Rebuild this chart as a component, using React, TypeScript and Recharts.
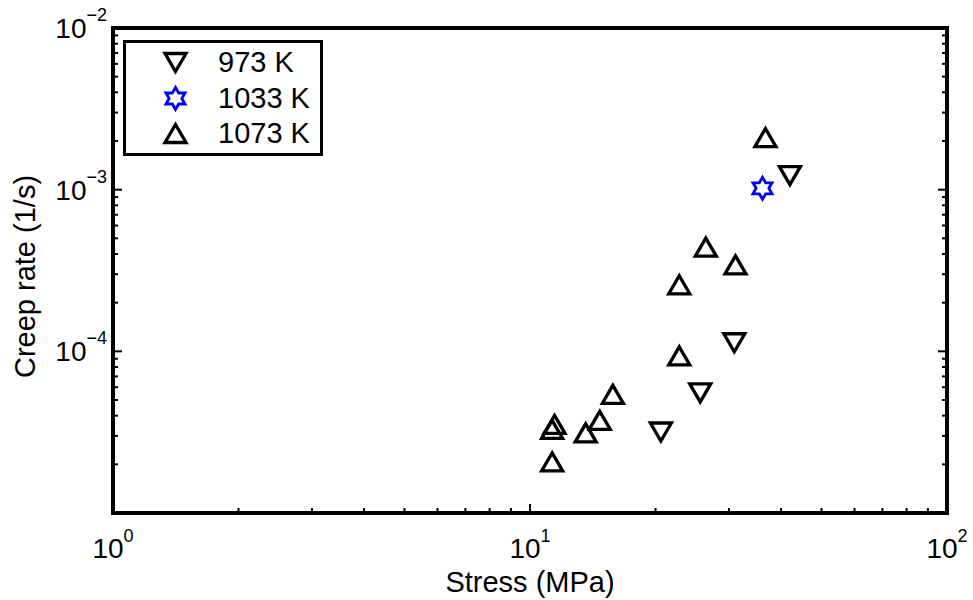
import { ScatterChart, Scatter, XAxis, YAxis, Legend } from "recharts";

const FONT = '"Liberation Sans", Arial, Helvetica, sans-serif';

// stress (MPa) / creep rate (1/s)
const seriesNames = ["973 K", "1033 K", "1073 K"];

const stress973 = [42.0, 30.9, 25.6, 20.6];
const rate973 = [1.22e-3, 1.13e-4, 5.53e-5, 3.17e-5];

const stress1033 = [36.1];
const rate1033 = [1.02e-3];

const stress1073 = [36.7, 26.4, 31.1, 22.8, 22.8, 15.8, 13.6, 14.7, 11.45, 11.3, 11.3];
const rate1073 = [2.1e-3, 4.41e-4, 3.43e-4, 2.58e-4, 9.38e-5, 5.42e-5, 3.13e-5, 3.74e-5, 3.53e-5, 3.29e-5, 2.07e-5];

const xTicks = [1, 2, 3, 4, 5, 6, 7, 8, 9, 10, 20, 30, 40, 50, 60, 70, 80, 90, 100];
const yTicks = [
  1e-5, 2e-5, 3e-5, 4e-5, 5e-5, 6e-5, 7e-5, 8e-5, 9e-5,
  1e-4, 2e-4, 3e-4, 4e-4, 5e-4, 6e-4, 7e-4, 8e-4, 9e-4,
  1e-3, 2e-3, 3e-3, 4e-3, 5e-3, 6e-3, 7e-3, 8e-3, 9e-3,
  1e-2,
];
const yLabelled = [-2, -3, -4];

const toPoints = (xs: number[], ys: number[]) => xs.map((x, i) => ({ x, y: ys[i] }));

const TICK_SIZE = 6;
const TICK_MARGIN = 2;
const MAJOR = 9;
const MINOR = 5;

const frame = { stroke: "#000", strokeWidth: 4, strokeLinecap: "square" as const };

const isMajor = (v: number) => Math.abs(Math.log10(v) - Math.round(Math.log10(v))) < 1e-6;
const expOf = (v: number) => {
  const e = Math.round(Math.log10(v));
  return e < 0 ? `\u2212${-e}` : `${e}`;
};

const BottomTick = (props: any) => {
  const { x, y, payload } = props;
  const edge = y - TICK_SIZE - TICK_MARGIN;
  const major = isMajor(payload.value);
  return (
    <g>
      <line x1={x} x2={x} y1={edge} y2={edge - (major ? MAJOR : MINOR)} stroke="#000" strokeWidth={2} />
      {major && (
        <text x={x} y={edge + 45} textAnchor="middle" fontFamily={FONT} fontSize={28} fill="#000">
          10
          <tspan dy={-16} fontSize={18}>{expOf(payload.value)}</tspan>
        </text>
      )}
    </g>
  );
};

const TopTick = (props: any) => {
  const { x, y, payload } = props;
  const edge = y + TICK_SIZE + TICK_MARGIN;
  const major = isMajor(payload.value);
  return <line x1={x} x2={x} y1={edge} y2={edge + (major ? MAJOR : MINOR)} stroke="#000" strokeWidth={2} />;
};

const LeftTick = (props: any) => {
  const { x, y, payload } = props;
  const edge = x + TICK_SIZE + TICK_MARGIN;
  const major = isMajor(payload.value);
  const e = Math.round(Math.log10(payload.value));
  return (
    <g>
      <line x1={edge} x2={edge + (major ? MAJOR : MINOR)} y1={y} y2={y} stroke="#000" strokeWidth={2} />
      {major && yLabelled.includes(e) && (
        <text x={edge - 6} y={y + 10} textAnchor="end" fontFamily={FONT} fontSize={28} fill="#000">
          10
          <tspan dy={-17} fontSize={18}>{expOf(payload.value)}</tspan>
        </text>
      )}
    </g>
  );
};

const RightTick = (props: any) => {
  const { x, y, payload } = props;
  const edge = x - TICK_SIZE - TICK_MARGIN;
  const major = isMajor(payload.value);
  return <line x1={edge} x2={edge - (major ? MAJOR : MINOR)} y1={y} y2={y} stroke="#000" strokeWidth={2} />;
};

const TriUp = ({ cx, cy }: any) => (
  <path
    d={`M${cx},${cy - 9} L${cx + 10.5},${cy + 9} L${cx - 10.5},${cy + 9} Z`}
    fill="none"
    stroke="#000"
    strokeWidth={3.3}
  />
);

const TriDown = ({ cx, cy }: any) => (
  <path
    d={`M${cx},${cy + 9} L${cx + 10.5},${cy - 9} L${cx - 10.5},${cy - 9} Z`}
    fill="none"
    stroke="#000"
    strokeWidth={3.3}
  />
);

const Hexagram = ({ cx, cy }: any) => {
  const R = 11;
  const r = R / Math.sqrt(3);
  const pts = [];
  for (let i = 0; i < 12; i++) {
    const a = -Math.PI / 2 + (i * Math.PI) / 6;
    const rad = i % 2 === 0 ? R : r;
    pts.push(`${cx + rad * Math.cos(a)},${cy + rad * Math.sin(a)}`);
  }
  return <polygon points={pts.join(" ")} fill="none" stroke="#0000ff" strokeWidth={2.8} />;
};

const markers: Record<string, any> = {
  "973 K": TriDown,
  "1033 K": Hexagram,
  "1073 K": TriUp,
};

const LegendBox = ({ payload }: any) => {
  const items = [...(payload || [])].sort(
    (a: any, b: any) => seriesNames.indexOf(a.value) - seriesNames.indexOf(b.value)
  );
  return (
    <div
      style={{
        width: 200,
        height: 116,
        boxSizing: "border-box",
        border: "3.5px solid #000",
        background: "#fff",
        paddingTop: 2,
        fontFamily: FONT,
        fontSize: 29,
        color: "#000",
      }}
    >
      {items.map((entry: any) => {
        const Mark = markers[entry.value];
        return (
          <div key={entry.value} style={{ display: "flex", alignItems: "center", height: 35.5 }}>
            <svg width={92} height={35} style={{ flex: "none" }}>
              <Mark cx={49.5} cy={17.5} />
            </svg>
            <span style={{ lineHeight: "35px" }}>{entry.value}</span>
          </div>
        );
      })}
    </div>
  );
};

export default function App() {
  return (
    <div style={{ position: "absolute", left: 0, top: 0, background: "#fff" }}>
      <ScatterChart width={973} height={600} margin={{ top: 27, right: 25, bottom: 0, left: 0 }}>
        <XAxis
          xAxisId="b"
          dataKey="x"
          type="number"
          scale="log"
          domain={[1, 100]}
          allowDataOverflow
          ticks={xTicks}
          interval={0}
          tickLine={false}
          tickSize={TICK_SIZE}
          tickMargin={TICK_MARGIN}
          axisLine={frame}
          height={87}
          tick={BottomTick}
          label={{ value: "Stress (MPa)", position: "insideBottom", offset: 8, fontSize: 29, fill: "#000", fontFamily: FONT }}
        />
        <XAxis
          xAxisId="t"
          orientation="top"
          type="number"
          scale="log"
          domain={[1, 100]}
          allowDataOverflow
          ticks={xTicks}
          interval={0}
          tickLine={false}
          tickSize={TICK_SIZE}
          tickMargin={TICK_MARGIN}
          axisLine={frame}
          height={1}
          tick={TopTick}
        />
        <YAxis
          yAxisId="l"
          dataKey="y"
          type="number"
          scale="log"
          domain={[1e-5, 1e-2]}
          allowDataOverflow
          ticks={yTicks}
          interval={0}
          tickLine={false}
          tickSize={TICK_SIZE}
          tickMargin={TICK_MARGIN}
          axisLine={frame}
          width={113}
          tick={LeftTick}
          label={{
            value: "Creep rate (1/s)",
            angle: -90,
            position: "insideLeft",
            offset: 25,
            dy: 6,
            fontSize: 29,
            fill: "#000",
            fontFamily: FONT,
            style: { textAnchor: "middle" },
          }}
        />
        <YAxis
          yAxisId="r"
          orientation="right"
          type="number"
          scale="log"
          domain={[1e-5, 1e-2]}
          allowDataOverflow
          ticks={yTicks}
          interval={0}
          tickLine={false}
          tickSize={TICK_SIZE}
          tickMargin={TICK_MARGIN}
          axisLine={frame}
          width={1}
          tick={RightTick}
        />
        <Legend
          content={LegendBox}
          itemSorter={null as any}
          layout="horizontal"
          verticalAlign="middle"
          align="center"
          wrapperStyle={{ left: 123, top: 40, width: 200, height: 116 }}
        />
        <Scatter
          name="973 K"
          xAxisId="b"
          yAxisId="l"
          data={toPoints(stress973, rate973)}
          fill="#000"
          shape={TriDown}
          isAnimationActive={false}
        />
        <Scatter
          name="1033 K"
          xAxisId="b"
          yAxisId="l"
          data={toPoints(stress1033, rate1033)}
          fill="#0000ff"
          shape={Hexagram}
          isAnimationActive={false}
        />
        <Scatter
          name="1073 K"
          xAxisId="b"
          yAxisId="l"
          data={toPoints(stress1073, rate1073)}
          fill="#000"
          shape={TriUp}
          isAnimationActive={false}
        />
      </ScatterChart>
    </div>
  );
}
